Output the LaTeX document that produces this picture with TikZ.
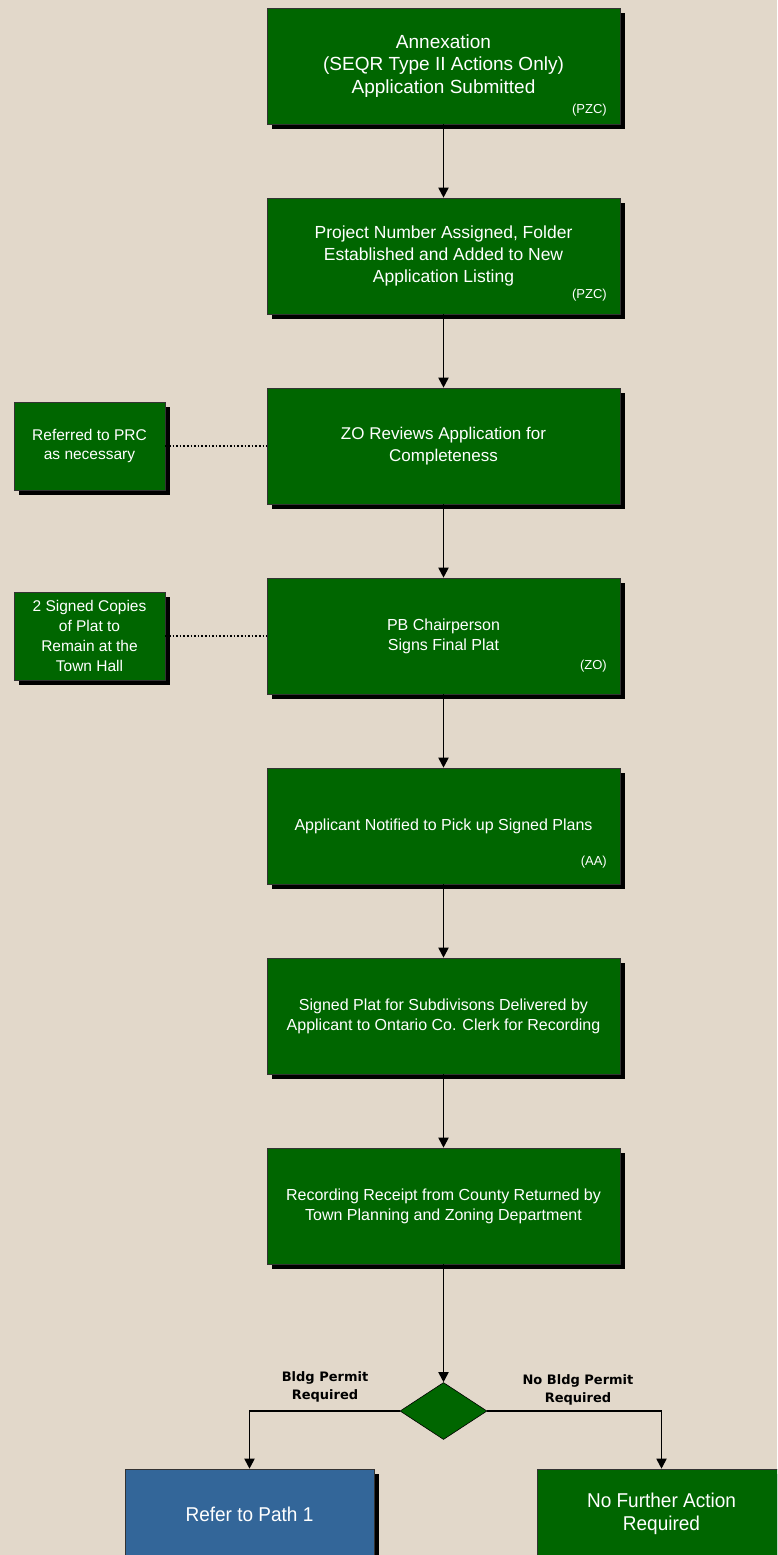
\documentclass[tikz,border=0pt]{standalone}
\usepackage{fontspec}
\setmainfont{Liberation Sans}
\newfontfamily\labelfont{DejaVu Sans}
\newfontfamily\narrowfont[FakeStretch=0.95]{Liberation Sans}
\usetikzlibrary{shapes.geometric,arrows.meta,shadows}

\definecolor{paper}{RGB}{226,216,202}
\definecolor{stepgreen}{RGB}{0,102,0}
\definecolor{pathblue}{RGB}{51,102,153}

\tikzset{
  x=1pt, y=-1pt,
  shade/.style={drop shadow={shadow xshift=5pt, shadow yshift=-5pt, fill=black, opacity=1}},
  mainbox/.style={shade, draw=black!80, line width=0.6pt, fill=stepgreen, text=white,
    minimum width=353pt, minimum height=116pt, inner sep=0pt, align=center,
    font=\fontsize{16}{20}\selectfont},
  sidebox/.style={shade, draw=black!80, line width=0.6pt, fill=stepgreen, text=white,
    minimum width=151pt, minimum height=88pt, inner sep=0pt, align=center,
    font=\fontsize{15.5}{19.7}\selectfont},
  tag/.style={text=white, font=\fontsize{13}{14}\selectfont, inner sep=0pt, anchor=east},
  endbox/.style={shade, draw=black!80, line width=0.6pt, text=white,
    minimum height=90pt, inner sep=0pt, align=center,
    font=\narrowfont\fontsize{20}{23}\selectfont},
  decision/.style={diamond, draw=black, line width=0.6pt, fill=stepgreen,
    minimum width=87pt, minimum height=57pt, inner sep=0pt},
  choice/.style={align=center, font=\labelfont\bfseries\fontsize{13}{17.5}\selectfont, inner sep=0pt},
  flow/.style={line width=1.8pt, -{Triangle[length=10pt,width=10pt]}},
  link/.style={line width=1.6pt, dotted},
}

\begin{document}
\begin{tikzpicture}
\fill[paper] (0,0) rectangle (777,1555);
\useasboundingbox (0,0) rectangle (777,1555);
\clip (0,0) rectangle (777,1555);

% main chain of steps
\node[mainbox, font=\fontsize{19}{22.5}\selectfont] (s1) at (443.5,66)
  {Annexation\\(SEQR Type II Actions Only)\\Application Submitted};
\node[mainbox, font=\fontsize{17.5}{22}\selectfont] (s2) at (443.5,256)
  {Project Number Assigned, Folder\\Established and Added to New\\Application Listing};
\node[mainbox, font=\fontsize{17}{22}\selectfont] (s3) at (443.5,446)
  {ZO Reviews Application for\\Completeness};
\node[mainbox] (s4) at (443.5,636) {PB Chairperson\\Signs Final Plat};
\node[mainbox] (s5) at (443.5,826) {Applicant Notified to Pick up Signed Plans};
\node[mainbox] (s6) at (443.5,1016)
  {Signed Plat for Subdivisons Delivered by\\Applicant to Ontario Co. Clerk for Recording};
\node[mainbox] (s7) at (443.5,1206)
  {Recording Receipt from County Returned by\\Town Planning and Zoning Department};

% responsible parties
\node[tag] (t1) at (607,110) {(PZC)};
\node[tag] (t2) at (607,295) {(PZC)};
\node[tag] (t4) at (607,666) {(ZO)};
\node[tag] (t5) at (607,862) {(AA)};

% side notes
\node[sidebox] (n3) at (89.5,446) {Referred to PRC\\as necessary};
\node[sidebox] (n4) at (89.5,636) {2 Signed Copies\\of Plat to\\Remain at the\\Town Hall};
\draw[link] (n3.east) -- (s3.west);
\draw[link] (n4.east) -- (s4.west);

% decision and outcomes
\node[decision] (d) at (443.5,1411) {};
\node[endbox, fill=pathblue, minimum width=249pt] (p1) at (249.5,1514) {Refer to Path 1};
\node[endbox, fill=stepgreen, minimum width=249pt] (nf) at (661.5,1514) {No Further Action\\Required};
\node[choice] (c1) at (325,1387) {Bldg Permit\\Required};
\node[choice] (c2) at (578,1390) {No Bldg Permit\\Required};

\foreach \a/\b in {s1/s2,s2/s3,s3/s4,s4/s5,s5/s6,s6/s7,s7/d}
  \draw[flow] (\a.south) -- (\b.north);
\draw[flow] (d.west) -| (p1.north);
\draw[flow] (d.east) -| (nf.north);
\end{tikzpicture}
\end{document}
